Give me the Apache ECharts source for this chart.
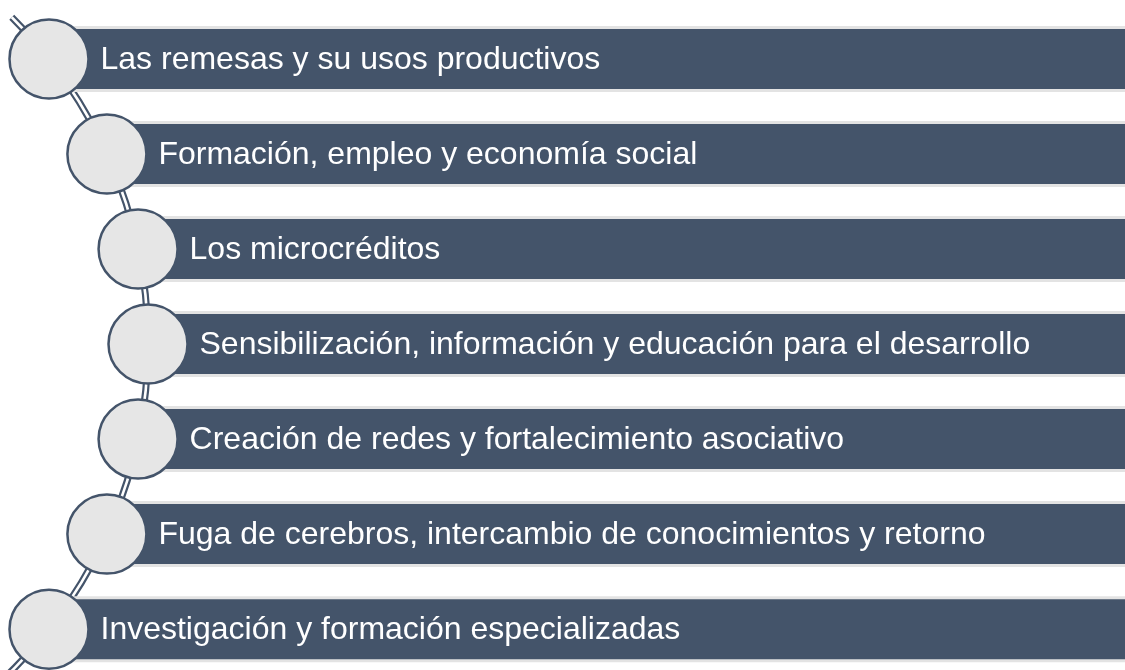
<!DOCTYPE html>
<html>
<head>
<meta charset="utf-8">
<script src="https://cdn.jsdelivr.net/npm/echarts@6/dist/echarts.min.js"></script>
<style>
  html, body { margin: 0; padding: 0; background: #fff; }
  #chart { width: 1125px; height: 670px; }
</style>
</head>
<body>
<div id="chart"></div>
<script>
// list items, top to bottom
const items = [
  "Las remesas y su usos productivos",
  "Formación, empleo y economía social",
  "Los microcréditos",
  "Sensibilización, información y educación para el desarrollo",
  "Creación de redes y fortalecimiento asociativo",
  "Fuga de cerebros, intercambio de conocimientos y retorno",
  "Investigación y formación especializadas"
];
const rows = items.map((_, i) => [0, i]);

const BAR = "#44546A";
const ARC_R = 460;      // radius of the big curve on the left
const APEX_X = 148;     // x of the curve's rightmost point
const midIdx = (items.length - 1) / 2;

const chart = echarts.init(document.getElementById("chart"));

function arcX(api, cy) {
  const midY = api.coord([0, midIdx])[1];
  const dy = cy - midY;
  return APEX_X - ARC_R + Math.sqrt(ARC_R * ARC_R - dy * dy);
}

function renderArc(params, api) {
  const midY = api.coord([0, midIdx])[1];
  const shape = {
    cx: APEX_X - ARC_R, cy: midY, r: ARC_R,
    startAngle: -0.79, endAngle: 0.86, clockwise: true
  };
  return {
    type: "group",
    children: [
      { type: "arc", shape: shape, style: { stroke: BAR, lineWidth: 7, fill: null } },
      { type: "arc", shape: shape, style: { stroke: "#fff", lineWidth: 2.6, fill: null } }
    ]
  };
}

function renderRow(params, api) {
  const idx = api.value(1);
  const cy = api.coord([0, idx])[1];
  const cx = arcX(api, cy);
  const w = 1125 - cx + 20;
  return {
    type: "group",
    children: [
      { type: "rect", shape: { x: cx, y: cy - 33, width: w, height: 66 }, style: { fill: "#e3e3e3" } },
      { type: "rect", shape: { x: cx, y: cy - 30, width: w, height: 60 }, style: { fill: BAR } },
      {
        type: "text",
        style: {
          x: cx + 51.5, y: cy + 1,
          text: items[idx],
          fill: "#fff",
          font: "32px 'Liberation Sans', Arial, sans-serif",
          verticalAlign: "middle",
          align: "left"
        }
      },
      {
        type: "circle",
        shape: { cx: cx, cy: cy, r: 39.5 },
        style: { fill: "#e6e6e6", stroke: BAR, lineWidth: 2.5 }
      }
    ]
  };
}

const option = {
  animation: false,
  grid: { left: 0, right: 0, top: 0, bottom: 0 },
  xAxis: { type: "value", min: 0, max: 1125, show: false },
  yAxis: { type: "value", inverse: true, min: -0.62, max: 6.43, show: false },
  series: [
    { type: "custom", z: 1, data: [[0, 0]], renderItem: renderArc, silent: true },
    { type: "custom", z: 2, data: rows, renderItem: renderRow, silent: true }
  ]
};
chart.setOption(option);
</script>
</body>
</html>
